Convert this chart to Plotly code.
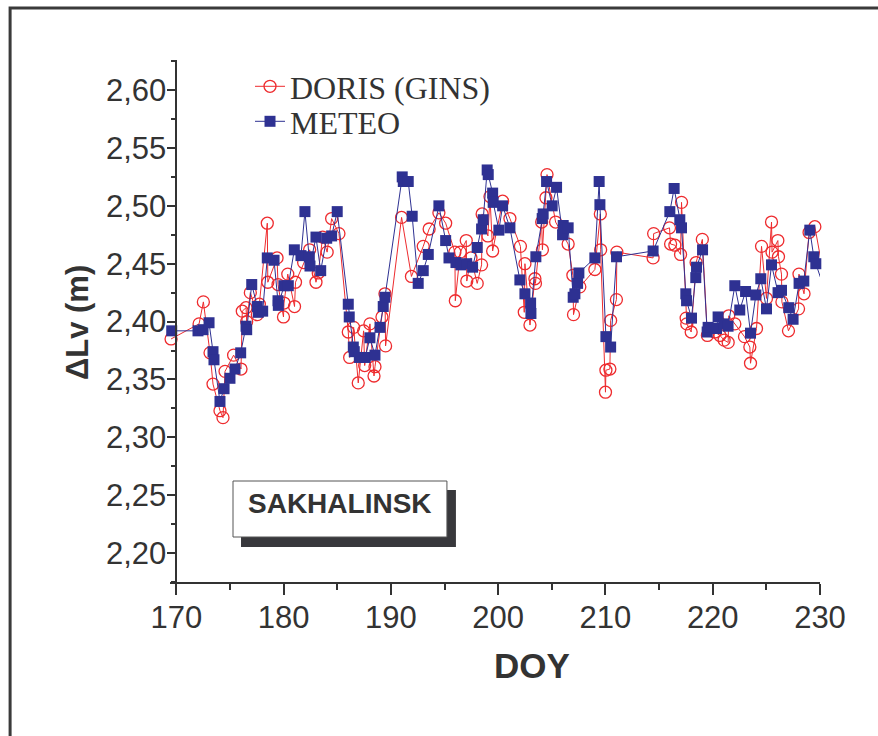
import plotly.graph_objects as go

# ---- data ----
doris_doy = [169.50, 172.11, 172.51, 173.13, 173.41, 174.06, 174.34, 174.53, 175.33, 176.02,
             176.14, 176.49, 176.55, 176.89, 177.54, 177.73, 178.47, 178.52, 179.38, 179.47,
             179.98, 180.03, 180.38, 181.01, 181.10, 181.86, 182.42, 183.01, 183.22, 183.63,
             184.05, 184.47, 185.15, 186.02, 186.15, 186.52, 186.95, 187.45, 187.55, 188.04,
             188.42, 188.51, 189.16, 189.44, 189.50, 190.99, 191.91, 193.01, 193.56, 194.47,
             195.10, 195.96, 196.00, 196.46, 197.02, 197.07, 197.46, 198.04, 198.45, 198.50,
             199.04, 199.23, 199.48, 200.41, 201.09, 202.07, 202.43, 202.49, 202.96, 203.42,
             203.47, 204.05, 204.12, 204.45, 204.55, 205.35, 206.52, 206.96, 207.02, 207.61,
             209.01, 209.52, 209.55, 210.00, 210.04, 210.41, 210.48, 211.02, 211.06, 214.44,
             214.49, 215.97, 216.07, 216.47, 217.00, 217.09, 217.52, 217.58, 217.99, 218.45,
             219.03, 219.50, 220.20, 220.67, 221.06, 221.44, 221.49, 222.06, 222.96, 223.46,
             223.52, 224.08, 224.55, 225.01, 225.48, 225.53, 226.07, 226.13, 226.41, 226.45,
             227.06, 228.00, 228.04, 228.51, 228.98, 229.52, 230.05]
doris_val = [2.385, 2.398, 2.417, 2.373, 2.346, 2.323, 2.317, 2.357, 2.371, 2.359,
             2.409, 2.412, 2.400, 2.425, 2.406, 2.415, 2.485, 2.434, 2.455, 2.432,
             2.404, 2.416, 2.441, 2.413, 2.434, 2.451, 2.462, 2.434, 2.442, 2.473,
             2.460, 2.489, 2.476, 2.391, 2.369, 2.395, 2.347, 2.392, 2.362, 2.398,
             2.353, 2.361, 2.404, 2.424, 2.379, 2.490, 2.439, 2.465, 2.480, 2.494,
             2.485, 2.460, 2.418, 2.460, 2.470, 2.435, 2.455, 2.433, 2.449, 2.493,
             2.474, 2.508, 2.461, 2.504, 2.489, 2.465, 2.408, 2.450, 2.397, 2.437,
             2.433, 2.486, 2.462, 2.507, 2.527, 2.486, 2.467, 2.440, 2.406, 2.430,
             2.445, 2.493, 2.462, 2.339, 2.358, 2.359, 2.401, 2.419, 2.460, 2.455,
             2.476, 2.481, 2.467, 2.466, 2.458, 2.503, 2.403, 2.398, 2.391, 2.451,
             2.471, 2.388, 2.391, 2.388, 2.384, 2.382, 2.405, 2.398, 2.387, 2.378,
             2.364, 2.394, 2.465, 2.420, 2.486, 2.460, 2.470, 2.456, 2.441, 2.417,
             2.392, 2.411, 2.441, 2.424, 2.477, 2.482, 2.455]

meteo_doy = [169.56, 172.01, 172.48, 173.04, 173.41, 173.50, 174.06, 174.44, 174.99, 175.46,
             175.99, 176.49, 176.55, 177.02, 177.54, 177.63, 178.04, 178.47, 179.10, 179.47,
             179.50, 180.03, 180.43, 180.99, 181.61, 181.98, 182.39, 182.45, 183.01, 183.45,
             184.01, 184.47, 184.99, 186.02, 186.11, 186.49, 186.58, 187.05, 187.60, 188.04,
             188.51, 188.98, 189.28, 189.44, 191.05, 191.15, 191.61, 191.98, 192.54, 193.01,
             193.48, 194.47, 195.10, 195.41, 196.06, 196.52, 197.06, 197.61, 198.04, 198.45,
             198.60, 198.97, 199.07, 199.48, 199.53, 200.06, 200.41, 201.09, 202.02, 202.49,
             203.02, 203.05, 203.51, 204.10, 204.19, 204.51, 205.03, 205.44, 206.00, 206.06,
             206.52, 206.99, 207.15, 207.40, 207.52, 209.01, 209.41, 209.48, 210.04, 210.48,
             211.03, 214.44, 216.00, 216.40, 216.93, 217.09, 217.49, 217.56, 218.02, 218.42,
             218.49, 219.05, 219.48, 219.57, 220.35, 220.50, 221.03, 221.43, 222.06, 222.52,
             223.06, 223.52, 224.02, 224.48, 225.01, 225.48, 226.09, 226.41, 227.09, 227.49,
             228.05, 228.49, 229.05, 229.42, 229.61, 230.05]
meteo_val = [2.392, 2.392, 2.393, 2.399, 2.374, 2.367, 2.331, 2.342, 2.351, 2.359,
             2.373, 2.396, 2.393, 2.432, 2.413, 2.408, 2.409, 2.455, 2.453, 2.418,
             2.414, 2.431, 2.431, 2.462, 2.457, 2.495, 2.456, 2.448, 2.473, 2.444,
             2.472, 2.474, 2.495, 2.415, 2.404, 2.378, 2.374, 2.369, 2.369, 2.386,
             2.371, 2.395, 2.413, 2.421, 2.525, 2.521, 2.521, 2.491, 2.433, 2.444,
             2.458, 2.500, 2.470, 2.455, 2.451, 2.449, 2.450, 2.447, 2.464, 2.480,
             2.488, 2.531, 2.527, 2.511, 2.503, 2.479, 2.500, 2.481, 2.436, 2.424,
             2.416, 2.407, 2.456, 2.489, 2.493, 2.521, 2.500, 2.516, 2.475, 2.483,
             2.481, 2.421, 2.424, 2.433, 2.442, 2.455, 2.521, 2.501, 2.387, 2.378,
             2.456, 2.461, 2.495, 2.515, 2.488, 2.481, 2.424, 2.418, 2.403, 2.438,
             2.447, 2.462, 2.391, 2.395, 2.394, 2.404, 2.398, 2.396, 2.431, 2.410,
             2.426, 2.390, 2.423, 2.437, 2.411, 2.449, 2.425, 2.427, 2.412, 2.402,
             2.433, 2.435, 2.479, 2.456, 2.450, 2.438]

series_names = ["DORIS (GINS)", "METEO"]
x_ticks = [170, 180, 190, 200, 210, 220, 230]
y_ticks = [2.20, 2.25, 2.30, 2.35, 2.40, 2.45, 2.50, 2.55, 2.60]
station = "SAKHALINSK"

RED = "#ee2b2e"
BLUE = "#2e3192"
INK = "#333333"

fig = go.Figure()
fig.add_trace(go.Scatter(
    x=doris_doy, y=doris_val, name=series_names[0], mode="lines+markers",
    line=dict(color=RED, width=1),
    marker=dict(symbol="circle-open", size=12, color=RED, line=dict(width=1.3)),
    cliponaxis=False, legend="legend"))
fig.add_trace(go.Scatter(
    x=meteo_doy, y=meteo_val, name=series_names[1], mode="lines+markers",
    line=dict(color=BLUE, width=1),
    marker=dict(symbol="square", size=11, color=BLUE),
    cliponaxis=False, legend="legend2"))

W, H = 878, 736
PXU = 10.73              # pixels per day
X170 = 176.4             # pixel of DOY 170 (y axis position)
XMIN = 169.4             # left edge of the x range
L = X170 - (170 - XMIN) * PXU
R = X170 + 60 * PXU
T, B = 60, 582


def px(xp):
    return (xp - L) / (R - L)


def py(yp):
    return (B - yp) / (B - T)


legfont = dict(family="Liberation Serif, Times New Roman, serif", size=32, color=INK)
fig.update_layout(
    width=W, height=H,
    margin=dict(l=L, r=W - R, t=T, b=H - B, pad=0),
    paper_bgcolor="white", plot_bgcolor="white",
    separators=", ",
    showlegend=True,
    legend=dict(x=px(250), y=py(59), xanchor="left", yanchor="top",
                bgcolor="rgba(0,0,0,0)", borderwidth=0, font=legfont),
    legend2=dict(x=px(250), y=py(94), xanchor="left", yanchor="top",
                 bgcolor="rgba(0,0,0,0)", borderwidth=0, font=legfont),
    xaxis=dict(range=[XMIN, 230], tickvals=x_ticks, ticks="outside", ticklen=11,
               tickwidth=1.5, tickcolor=INK, showline=True, linewidth=2, linecolor=INK,
               showgrid=False, zeroline=False, ticklabelstandoff=-4,
               minor=dict(tickvals=[175, 185, 195, 205, 215, 225], ticks="outside", ticklen=6,
                          tickwidth=1.5, tickcolor=INK, showgrid=False),
               tickfont=dict(family="Liberation Sans, Arial, sans-serif", size=31, color=INK)),
    yaxis=dict(range=[2.175, 2.626], tickvals=y_ticks, tickformat=".2f", ticks="outside",
               ticklen=8, tickwidth=1.5, tickcolor=INK, showline=True, linewidth=2,
               linecolor=INK, showgrid=False, zeroline=False, ticklabelstandoff=-5,
               anchor="free", position=px(X170),
               minor=dict(dtick=0.025, tick0=2.175, ticks="outside", ticklen=4, tickwidth=1.5,
                          tickcolor=INK, showgrid=False),
               tickfont=dict(family="Liberation Sans, Arial, sans-serif", size=31, color=INK)),
)

shapes = [
    # outer frame (top and left edges visible)
    dict(type="rect", xref="paper", yref="paper", x0=px(10), y0=py(800), x1=px(1000), y1=py(8),
         line=dict(color="#3a3a3a", width=3), fillcolor="rgba(0,0,0,0)", layer="below"),
    # station label shadow and box
    dict(type="rect", xref="paper", yref="paper", x0=px(241), y0=py(547), x1=px(456), y1=py(490),
         line=dict(width=0), fillcolor="#38383c", layer="above"),
    dict(type="rect", xref="paper", yref="paper", x0=px(233), y0=py(537), x1=px(447), y1=py(481),
         line=dict(color="#555555", width=1), fillcolor="white", layer="above"),
]
fig.update_layout(shapes=shapes)

fig.add_annotation(text="<b>%s</b>" % station, xref="paper", yref="paper",
                   x=px(340), y=py(503), xanchor="center", yanchor="middle", showarrow=False,
                   font=dict(family="Liberation Sans, Arial, sans-serif", size=28, color=INK))
fig.add_annotation(text="<b>ΔLv (m)</b>", xref="paper", yref="paper",
                   x=px(77), y=py(323), xanchor="center", yanchor="middle", showarrow=False,
                   textangle=-90,
                   font=dict(family="Liberation Sans, Arial, sans-serif", size=31, color=INK))
fig.add_annotation(text="<b>DOY</b>", xref="paper", yref="paper",
                   x=px(532), y=py(665), xanchor="center", yanchor="middle", showarrow=False,
                   font=dict(family="Liberation Sans, Arial, sans-serif", size=35, color=INK))

fig.write_html("out.html")
